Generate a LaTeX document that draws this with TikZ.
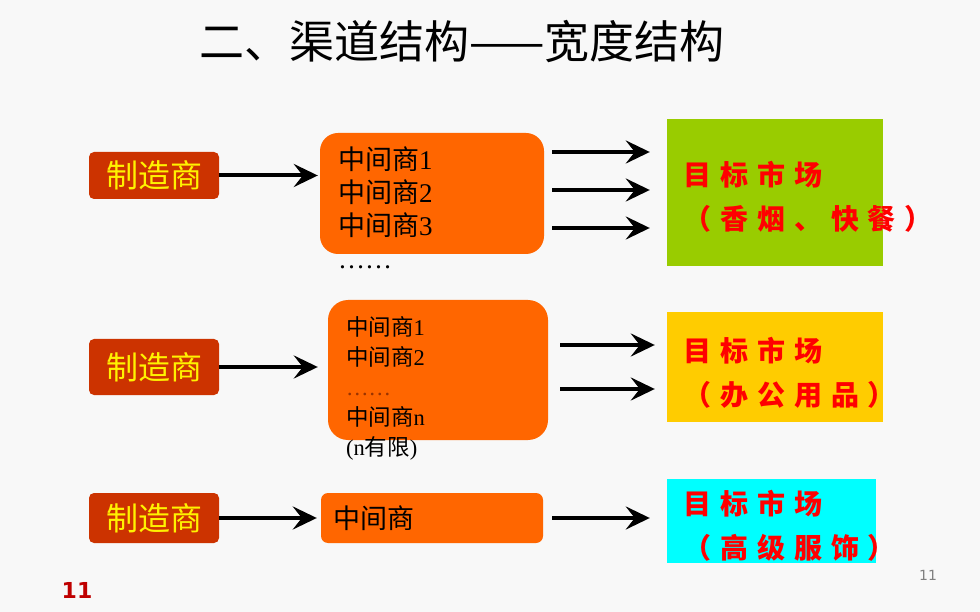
\documentclass[tikz,border=0pt]{standalone}
\usepackage{fontspec}
\setmainfont{Liberation Serif}
\newfontfamily\cjk{Noto Sans CJK SC}
\newfontfamily\mktfont[LetterSpace=32]{Noto Sans CJK SC}
\newfontfamily\numfont{DejaVu Sans}
\usepackage{tikz}
\usetikzlibrary{arrows.meta}
\definecolor{bggray}{rgb}{0.973, 0.973, 0.973}
\definecolor{mkrred}{rgb}{0.8, 0.2, 0}
\definecolor{midorange}{rgb}{1, 0.4, 0}
\definecolor{mktgreen}{rgb}{0.6, 0.8, 0}
\definecolor{mktyellow}{rgb}{1, 0.8, 0}
\definecolor{mktcyan}{rgb}{0, 1, 1}
\definecolor{dotbrown}{rgb}{0.6, 0.2, 0}
\definecolor{numred}{rgb}{0.75, 0, 0}
\tikzset{headline/.style = {font = \cjk\fontsize{45}{45}\selectfont}}
\tikzset{maker/.style = {fill = mkrred, rounded corners = 5pt, minimum width = 130pt, minimum height = 50pt, inner sep = 0, text = yellow, font = \cjk\fontsize{32}{32}\selectfont}}
\tikzset{mid/.style = {fill = midorange, rounded corners = 18pt, inner sep = 0}}
\tikzset{mkt/.style = {inner sep = 0}}
\tikzset{midtxt/.style = {anchor = west, align = left, inner sep = 0}}
\tikzset{mkttxt/.style = {anchor = west, align = left, inner sep = 0, text = red, font = \mktfont\bfseries\fontsize{28}{44}\selectfont}}
\tikzset{flow/.style = {line width = 4pt, -{Stealth[length = 24pt, width = 23pt, inset = 9pt]}}}

\begin{document}
\begin{tikzpicture}[x = 1pt, y = -1pt]
    \useasboundingbox (0, 0) rectangle (980, 612);
    \fill [bggray] (0, 0) rectangle (980, 612);

    \node [headline] (head) at (462, 42) {二、渠道结构——宽度结构};

    \node [maker, minimum height = 47pt] (maker1) at (154, 175.5) {制造商};
    \node [mid, minimum width = 224pt, minimum height = 121pt] (mid1) at (432, 193.5) {};
    \node [midtxt, font = \fontsize{27}{33}\selectfont] (mid1txt) at (338, 208) {{\cjk 中间商}1\\{\cjk 中间商}2\\{\cjk 中间商}3\\……};
    \node [mkt, fill = mktgreen, minimum width = 216pt, minimum height = 147pt] (mkt1) at (775, 192.5) {};
    \node [mkttxt] (mkt1txt) at (683, 197) {目标市场\\（香烟、快餐）};
    \draw [flow, shorten >= 2pt] (maker1.east) -- (maker1.east -| mid1.west);
    \foreach \dy in {41.5, 3.5, -34.5}
        \draw [flow, shorten <= 8pt, shorten >= 17pt] ([yshift = \dy pt]mid1.east) -- ([yshift = \dy pt]mid1.east -| mkt1.west);

    \node [maker, minimum height = 56pt] (maker2) at (154, 367) {制造商};
    \node [mid, rounded corners = 20pt, minimum width = 220pt, minimum height = 140pt] (mid2) at (438, 370) {};
    \node [midtxt, font = \fontsize{22.5}{30}\selectfont] (mid2txt) at (346, 388) {{\cjk 中间商}1\\{\cjk 中间商}2\\{\color{dotbrown}……}\\{\cjk 中间商}n\\(n{\cjk 有限})};
    \node [mkt, fill = mktyellow, minimum width = 216pt, minimum height = 110pt] (mkt2) at (775, 367) {};
    \node [mkttxt] (mkt2txt) at (683, 372.5) {目标市场\\（办公用品）};
    \draw [flow, shorten >= 10pt] (maker2.east) -- (maker2.east -| mid2.west);
    \foreach \dy in {25, -19}
        \draw [flow, shorten <= 12pt, shorten >= 12pt] ([yshift = \dy pt]mid2.east) -- ([yshift = \dy pt]mid2.east -| mkt2.west);

    \node [maker] (maker3) at (154, 518) {制造商};
    \node [mid, rounded corners = 7pt, minimum width = 222pt, minimum height = 50pt] (mid3) at (432, 518) {};
    \node [midtxt, font = \cjk\fontsize{27}{33}\selectfont] (mid3txt) at (333, 518) {中间商};
    \node [mkt, fill = mktcyan, minimum width = 209pt, minimum height = 84pt] (mkt3) at (771.5, 521) {};
    \node [mkttxt] (mkt3txt) at (683, 525.5) {目标市场\\（高级服饰）};
    \draw [flow, shorten >= 4pt] (maker3.east) -- (mid3.west);
    \draw [flow, shorten <= 9pt, shorten >= 17pt] (mid3.east) -- (mid3.east -| mkt3.west);

    \node [font = \numfont\bfseries\fontsize{22}{22}\selectfont, text = numred] (pgleft) at (77, 590) {11};
    \node [font = \numfont\fontsize{14}{14}\selectfont, text = gray] (pgright) at (928, 575) {11};
\end{tikzpicture}
\end{document}
